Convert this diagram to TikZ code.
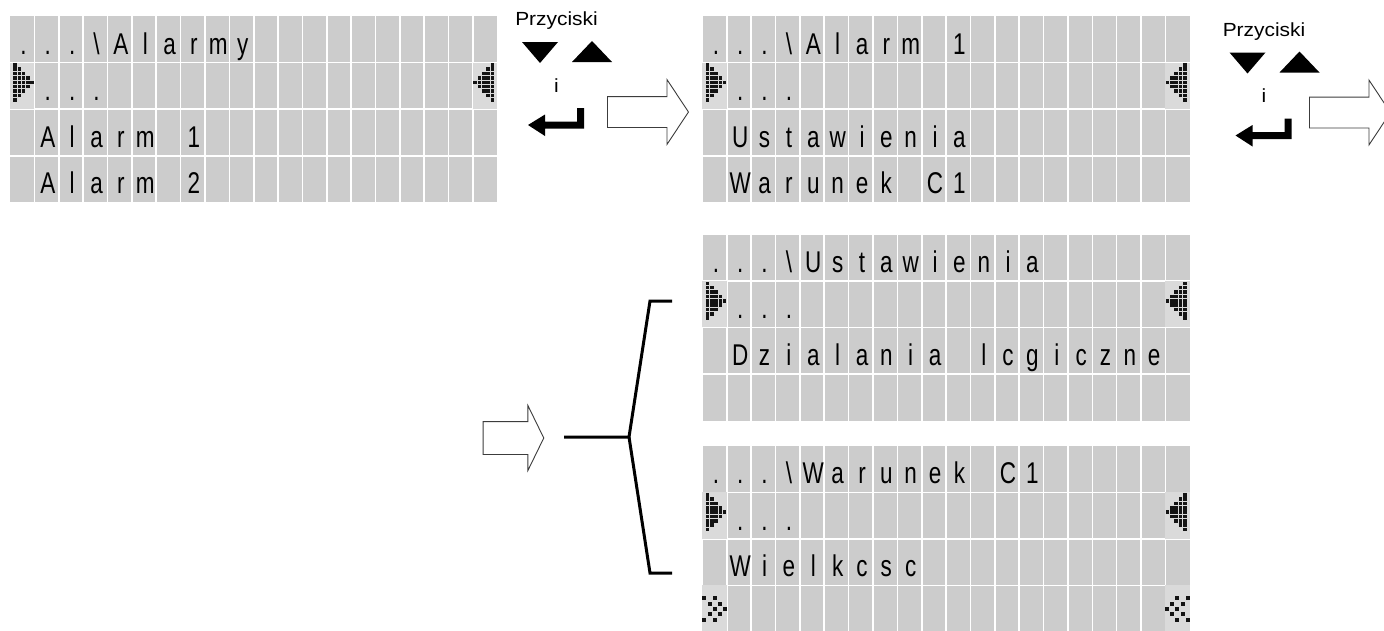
\documentclass[tikz,border=0pt]{standalone}
\usepackage{fontspec}
\newfontfamily\lcdfont[FakeStretch=0.75]{Liberation Sans}
\newfontfamily\keyfont[FakeStretch=1.1]{Liberation Sans}
\usepackage{xcolor}
\definecolor{lcdgray}{RGB}{204,204,204}
\definecolor{glyphgray}{RGB}{218,218,218}
\definecolor{pixel}{RGB}{20,20,20}
\definecolor{outline}{RGB}{60,60,60}
\usepackage{tikz}
\usetikzlibrary{shapes.arrows, positioning, calc}

\tikzset{
  lcd/.style={rectangle, fill=lcdgray, draw=none, inner sep=0pt,
    minimum width=487pt, minimum height=186pt},
  lcdline/.style={draw=white, line width=1.6pt},
  lcdchar/.style={anchor=base, inner sep=0pt,
    font=\lcdfont\fontsize{30}{30}\selectfont},
  glyphcell/.style={fill=glyphgray},
  dotpix/.style={fill=pixel},
  keylabel/.style={inner sep=0pt, font=\keyfont\fontsize{19}{19}\selectfont},
  keyicon/.style={fill=black},
  nextarrow/.style={single arrow, draw=outline, fill=white, line width=0.9pt,
    inner xsep=0pt, inner ysep=15pt, single arrow head extend=17pt,
    single arrow head indent=0pt, single arrow tip angle=113,
    minimum height=81pt, anchor=tail},
  forkline/.style={draw=black, line width=3pt},
  keys/.pic={
    \node[keylabel] (-label) at (0,0) {Przyciski};
    \fill[keyicon] (-34.5,21) -- (1.5,21) -- (-16.5,42) -- cycle;
    \fill[keyicon] (15.5,41) -- (55.5,41) -- (35.5,20) -- cycle;
    \node[keylabel] (-and) at (0,64.5) {i};
    \fill[keyicon] (-28.5,104) -- (-11.5,93.5) -- (-11.5,100.5) -- (20.5,100.5)
      -- (20.5,87) -- (27.5,87) -- (27.5,107.5) -- (-11.5,107.5) -- (-11.5,115) -- cycle;
  }
}

% 20 x 4 character display
\newcommand\lcdgrid[1]{%
  \foreach \c in {1,...,19}
    \draw[lcdline] ($(#1.north west)!\c/20!(#1.north east)$) -- ($(#1.south west)!\c/20!(#1.south east)$);
  \foreach \r in {1,2,3}
    \draw[lcdline] ($(#1.north west)!\r/4!(#1.south west)$) -- ($(#1.north east)!\r/4!(#1.south east)$);
}
\newcommand\lcdrow[3]{%
  \foreach \ch [count=\c from 0] in {#3}
    \node[lcdchar] (#1-\c-#2) at ($(#1.north west)+(\c*24.35+13.5,#2*46.5+38)$) {\ch};
}
\newcommand\lcdpointers[2]{%
  \fill[glyphcell] ($(#1.north west)+(0,#2*46.5)$) rectangle ++(24.35,46.5);
  \fill[glyphcell] ($(#1.north east)+(-24.35,#2*46.5)$) rectangle ++(24.35,46.5);
  \foreach \j in {0,...,8}{
    \pgfmathtruncatemacro\m{min(\j,8-\j)}
    \foreach \k in {0,...,\m}{
      \fill[dotpix] ($(#1.north west)+(3.2+4.3*\k,#2*46.5+0.6+4.35*\j)$) rectangle ++(3.6,3.6);
      \fill[dotpix] ($(#1.north east)+(-6.8-4.3*\k,#2*46.5+0.6+4.35*\j)$) rectangle ++(3.6,3.6);
    }
  }
}
\newcommand\lcdchecker[2]{%
  \fill[glyphcell] ($(#1.north west)+(0,#2*46.5)$) rectangle ++(24.35,46.5);
  \fill[glyphcell] ($(#1.north east)+(-24.35,#2*46.5)$) rectangle ++(24.35,46.5);
  \foreach \j in {0,...,4}{
    \pgfmathtruncatemacro\m{min(\j,4-\j)}
    \foreach \k in {0,2}{
      \pgfmathsetmacro\dx{5.2*(\m+\k)}
      \fill[dotpix] ($(#1.north west)+(\dx,#2*46.5+10.8+5.4*\j)$) rectangle ++(4,4);
      \fill[dotpix] ($(#1.north east)+(-4-\dx,#2*46.5+10.8+5.4*\j)$) rectangle ++(4,4);
    }
  }
}

\begin{document}
\begin{tikzpicture}[x=1pt, y=-1pt]

  \fill[white] (0,0) rectangle (1384,630);
  \useasboundingbox (0,0) rectangle (1384,630);

  \node[lcd, anchor=north west] (dispAlarmy) at (10,16) {};
  \node[lcd, right=205pt of dispAlarmy] (dispAlarm) {};
  \node[lcd, below=32pt of dispAlarm]   (dispUst)   {};
  \node[lcd, below=25pt of dispUst]     (dispWar)   {};

  \lcdgrid{dispAlarmy}
  \lcdpointers{dispAlarmy}{1}
  \lcdrow{dispAlarmy}{0}{.,.,.,\textbackslash,A,l,a,r,m,y}
  \lcdrow{dispAlarmy}{1}{{},.,.,.}
  \lcdrow{dispAlarmy}{2}{{},A,l,a,r,m,{},1}
  \lcdrow{dispAlarmy}{3}{{},A,l,a,r,m,{},2}

  \lcdgrid{dispAlarm}
  \lcdpointers{dispAlarm}{1}
  \lcdrow{dispAlarm}{0}{.,.,.,\textbackslash,A,l,a,r,m,{},1}
  \lcdrow{dispAlarm}{1}{{},.,.,.}
  \lcdrow{dispAlarm}{2}{{},U,s,t,a,w,i,e,n,i,a}
  \lcdrow{dispAlarm}{3}{{},W,a,r,u,n,e,k,{},C,1}

  \lcdgrid{dispUst}
  \lcdpointers{dispUst}{1}
  \lcdrow{dispUst}{0}{.,.,.,\textbackslash,U,s,t,a,w,i,e,n,i,a}
  \lcdrow{dispUst}{1}{{},.,.,.}
  \lcdrow{dispUst}{2}{{},D,z,i,a,l,a,n,i,a,{},l,c,g,i,c,z,n,e}

  \lcdgrid{dispWar}
  \lcdpointers{dispWar}{1}
  \lcdchecker{dispWar}{3}
  \lcdrow{dispWar}{0}{.,.,.,\textbackslash,W,a,r,u,n,e,k,{},C,1}
  \lcdrow{dispWar}{1}{{},.,.,.}
  \lcdrow{dispWar}{2}{{},W,i,e,l,k,c,s,c}

  \pic (keysA) at (556.5,21) {keys};
  \pic (keysB) at (1264,31.5) {keys};

  \node[nextarrow] (nextA) at (607,112) {};
  \node[nextarrow] (nextB) at (1309,112.5) {};
  \node[nextarrow, minimum height=60.6pt, inner ysep=16pt,
    single arrow head extend=16pt, single arrow tip angle=128] (nextC) at (482.7,438) {};

  \coordinate (forkIn)  at (564,437);
  \coordinate (fork)    at (629,437);
  \coordinate (armTop)  at (650,301);
  \coordinate (endTop)  at (672,301);
  \coordinate (armBot)  at (650,573);
  \coordinate (endBot)  at (672,573);
  \draw[forkline] (forkIn) -- (fork) -- (armTop) -- (endTop);
  \draw[forkline] (fork) -- (armBot) -- (endBot);

\end{tikzpicture}
\end{document}
